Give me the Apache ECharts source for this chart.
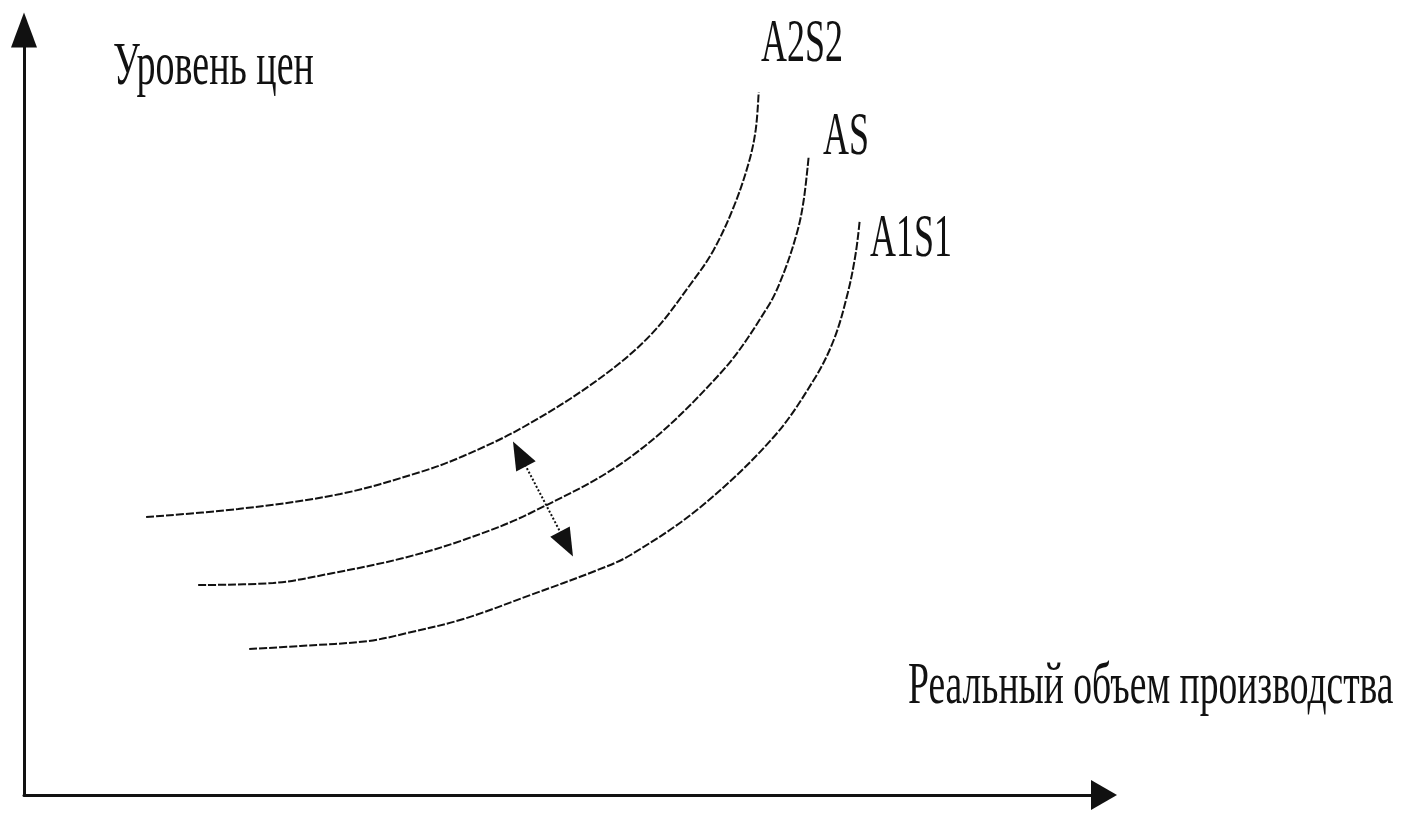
<!DOCTYPE html>
<html style="height: 100%">
<head>
    <meta charset="utf-8">
</head>
<body style="height: 100%; margin: 0; background: #fff">
    <div id="container" style="width: 1412px; height: 813px"></div>
    <script src="https://cdn.jsdelivr.net/npm/echarts@6/dist/echarts.min.js"></script>
    <script type="text/javascript">
        var chartDom = document.getElementById('container');
        var myChart = echarts.init(chartDom);
        var option;

        var curveA2S2 = [[122, 278], [214, 286], [316, 301], [396, 323], [439, 339], [499, 368], [573, 415],
            [626, 460], [669, 515], [689, 545], [709, 588], [724, 632], [731, 665], [734, 703]];
        var curveAS = [[174, 210], [249, 212], [309, 222], [379, 237], [439, 255], [506, 282], [606, 338],
            [696, 422], [743, 488], [759, 522], [773, 565], [779, 595], [784, 639]];
        var curveA1S1 = [[225, 146], [276, 149], [344, 154], [383, 162], [439, 176], [506, 200], [573, 225],
            [606, 240], [676, 288], [749, 358], [789, 415], [809, 455], [823, 502], [831, 542], [835, 575]];
        // shift arrow between curves
        var shiftArrow = [[495, 341], [542, 251]];

        var yTitle = 'Уровень цен';
        var xTitle = 'Реальный объем производства';
        var curveNames = ['A2S2', 'AS', 'A1S1'];

        var font = '"Liberation Serif", "DejaVu Serif", serif';
        var lineStyle = { color: '#111', width: 2, type: [8, 2] };

        function curve(name, data) {
            return {
                name: name,
                type: 'line',
                data: data,
                smooth: 0.35,
                symbol: 'none',
                silent: true,
                lineStyle: lineStyle
            };
        }

        function label(text, x, y, size, sy) {
            return {
                type: 'text',
                x: x,
                y: y,
                scaleY: sy,
                style: {
                    text: text,
                    font: size + 'px ' + font,
                    fill: '#111',
                    textAlign: 'left',
                    textVerticalAlign: 'bottom'
                }
            };
        }

        option = {
            backgroundColor: '#fff',
            animation: false,
            grid: { left: 24, right: 308, top: 30, bottom: 18 },
            xAxis: {
                type: 'value',
                min: 0,
                max: 1079,
                splitLine: { show: false },
                axisTick: { show: false },
                axisLabel: { show: false },
                axisLine: {
                    lineStyle: { color: '#111', width: 3 },
                    symbol: ['none', 'triangle'],
                    symbolSize: [30, 26]
                }
            },
            yAxis: {
                type: 'value',
                min: 0,
                max: 765,
                splitLine: { show: false },
                axisTick: { show: false },
                axisLabel: { show: false },
                axisLine: {
                    lineStyle: { color: '#111', width: 3 },
                    symbol: ['none', 'triangle'],
                    symbolSize: [26, 35]
                }
            },
            graphic: [
                label(yTitle, 113, 98, 38, 1.6),
                label(xTitle, 908, 718, 37.6, 1.6),
                label(curveNames[0], 761, 76, 36, 1.7),
                label(curveNames[1], 823, 169, 36, 1.7),
                label(curveNames[2], 870, 271, 36, 1.7)
            ],
            series: [
                curve(curveNames[0], curveA2S2),
                curve(curveNames[1], curveAS),
                curve(curveNames[2], curveA1S1),
                {
                    name: 'shift',
                    type: 'line',
                    data: [],
                    markLine: {
                        silent: true,
                        symbol: ['triangle', 'triangle'],
                        symbolSize: [22, 28],
                        label: { show: false },
                        lineStyle: { color: '#111', width: 2, type: 'dotted' },
                        itemStyle: { color: '#111' },
                        data: [[{ coord: shiftArrow[0] }, { coord: shiftArrow[1] }]]
                    }
                }
            ]
        };

        option && myChart.setOption(option);
    </script>
</body>
</html>
